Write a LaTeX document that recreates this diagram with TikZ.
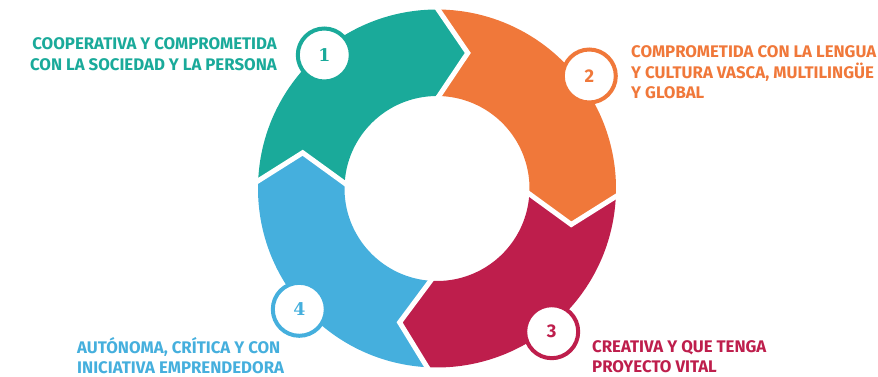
\documentclass[tikz,border=0pt]{standalone}
\usepackage{fontspec}
\setmainfont{Fira Sans}
\newfontfamily\slabfont{DejaVu Serif}
\newfontfamily\lblfont{Fira Sans}
\usetikzlibrary{calc}
\definecolor{cteal}{HTML}{1AAA9A}
\definecolor{corange}{HTML}{F0783A}
\definecolor{ccrimson}{HTML}{BE1E4C}
\definecolor{cblue}{HTML}{45AFDD}
\tikzset{
  numcircle/.style={circle, draw=#1, fill=white, line width=4pt, minimum size=53pt, inner sep=0pt, text=#1},
  gapline/.style={draw=white, line width=5pt, line join=miter},
  lbl/.style={inner sep=0pt, text=#1, font=\lblfont\bfseries\fontsize{16.8}{20.3}\selectfont},
}
\begin{document}
\begin{tikzpicture}[x=1pt,y=1pt]
\useasboundingbox (0,0) rectangle (878,376);
\coordinate (C) at (437,187.5);
% boundary angles
\def\ta{178.4}\def\tb{90.5}\def\tc{-1.7}\def\td{-92.3}
\def\off{13.3}
\def\Ro{179}\def\Ri{92.5}\def\Rm{139}
\def\Roo{183}\def\Rii{88.5}
\begin{scope}[shift={(437,187.5)}]
% segment 1 teal: from \ta to \tb
\fill[cteal] (\ta:\Ro pt) arc[start angle=\ta, end angle=\tb, radius=\Ro pt]
  -- ({\tb-\off}:\Rm pt) -- (\tb:\Ri pt) arc[start angle=\tb, end angle=\ta, radius=\Ri pt]
  -- ({\ta-\off}:\Rm pt) -- cycle;
% segment 2 orange: from \tb to \tc
\fill[corange] (\tb:\Ro pt) arc[start angle=\tb, end angle=\tc, radius=\Ro pt]
  -- ({\tc-\off}:\Rm pt) -- (\tc:\Ri pt) arc[start angle=\tc, end angle=\tb, radius=\Ri pt]
  -- ({\tb-\off}:\Rm pt) -- cycle;
% segment 3 crimson: from \tc to \td
\fill[ccrimson] (\tc:\Ro pt) arc[start angle=\tc, end angle=\td, radius=\Ro pt]
  -- ({\td-\off}:\Rm pt) -- (\td:\Ri pt) arc[start angle=\td, end angle=\tc, radius=\Ri pt]
  -- ({\tc-\off}:\Rm pt) -- cycle;
% segment 4 blue: from \td to \ta-360
\fill[cblue] (\td:\Ro pt) arc[start angle=\td, end angle=\ta-360, radius=\Ro pt]
  -- ({\ta-360-\off}:\Rm pt) -- ({\ta-360}:\Ri pt) arc[start angle=\ta-360, end angle=\td, radius=\Ri pt]
  -- ({\td-\off}:\Rm pt) -- cycle;
% white gaps
\foreach \t in {\ta,\tb,\tc,\td}{
  \draw[gapline] (\t:\Roo pt) -- ({\t-\off}:\Rm pt) -- (\t:\Rii pt);
}
\end{scope}
% number circles
\node[numcircle=cteal] (n1) at (324.3,321) {\slabfont\bfseries\fontsize{17.4}{18}\selectfont 1};
\node[numcircle=corange] (n2) at (589.3,300) {\bfseries\fontsize{18.4}{19}\selectfont 2};
\node[numcircle=ccrimson] (n3) at (551.7,44.3) {\bfseries\fontsize{18.4}{19}\selectfont 3};
\node[numcircle=cblue] (n4) at (299.3,66.7) {\slabfont\bfseries\fontsize{17.4}{18}\selectfont 4};
% labels (base anchor = last line)
\node[lbl=cteal, anchor=base east, align=right] (t1) at (277,306) {COOPERATIVA Y COMPROMETIDA\\CON LA SOCIEDAD Y LA PERSONA};
\node[lbl=corange, anchor=base west, align=left] (t2) at (631,277.7) {COMPROMETIDA CON LA LENGUA\\Y CULTURA VASCA, MULTILINGÜE\\Y GLOBAL};
\node[lbl=ccrimson, anchor=base west, align=left] (t3) at (592,3.7) {CREATIVA Y QUE TENGA\\PROYECTO VITAL};
\node[lbl=cblue, anchor=base west, align=left] (t4) at (77,2.5) {AUTÓNOMA, CRÍTICA Y CON\\INICIATIVA EMPRENDEDORA};
\end{tikzpicture}
\end{document}
